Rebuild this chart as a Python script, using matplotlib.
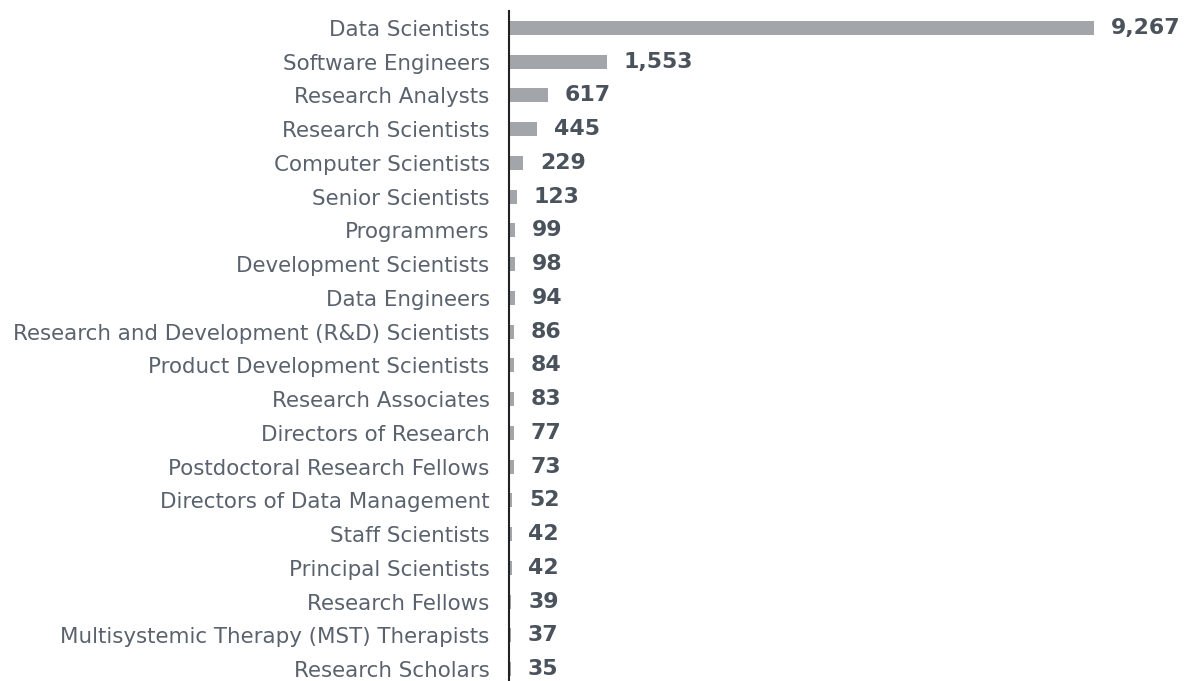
import matplotlib.pyplot as plt

roles = [
    "Data Scientists",
    "Software Engineers",
    "Research Analysts",
    "Research Scientists",
    "Computer Scientists",
    "Senior Scientists",
    "Programmers",
    "Development Scientists",
    "Data Engineers",
    "Research and Development (R&D) Scientists",
    "Product Development Scientists",
    "Research Associates",
    "Directors of Research",
    "Postdoctoral Research Fellows",
    "Directors of Data Management",
    "Staff Scientists",
    "Principal Scientists",
    "Research Fellows",
    "Multisystemic Therapy (MST) Therapists",
    "Research Scholars",
]
counts = [9267, 1553, 617, 445, 229, 123, 99, 98, 94, 86,
          84, 83, 77, 73, 52, 42, 42, 39, 37, 35]

bar_color = "#a2a5aa"
label_color = "#59626d"
value_color = "#4a525c"

fig = plt.figure(figsize=(11.91, 6.81), dpi=100)
ax = fig.add_axes([509 / 1191, -5 / 681, (1191 - 509) / 1191, 675 / 681])

y = list(range(len(roles)))
ax.barh(y, counts, height=0.42, color=bar_color)

for yi, c in zip(y, counts):
    ax.annotate(f"{c:,}", (c, yi), xytext=(12, 0), textcoords="offset points",
                va="center", ha="left", fontsize=15.8, fontweight="bold",
                color=value_color)

ax.set_yticks(y)
ax.set_yticklabels(roles, fontsize=15.4, color=label_color)
ax.set_ylim(len(roles) - 0.5, -0.5)
ax.set_xlim(0, 9267 * 682 / 585)

ax.tick_params(axis="y", length=0, pad=14)
ax.set_xticks([])
for side in ["top", "right", "bottom"]:
    ax.spines[side].set_visible(False)
ax.spines["left"].set_linewidth(1.5)
ax.spines["left"].set_color("#222222")

fig.savefig("out.png", dpi=100)
